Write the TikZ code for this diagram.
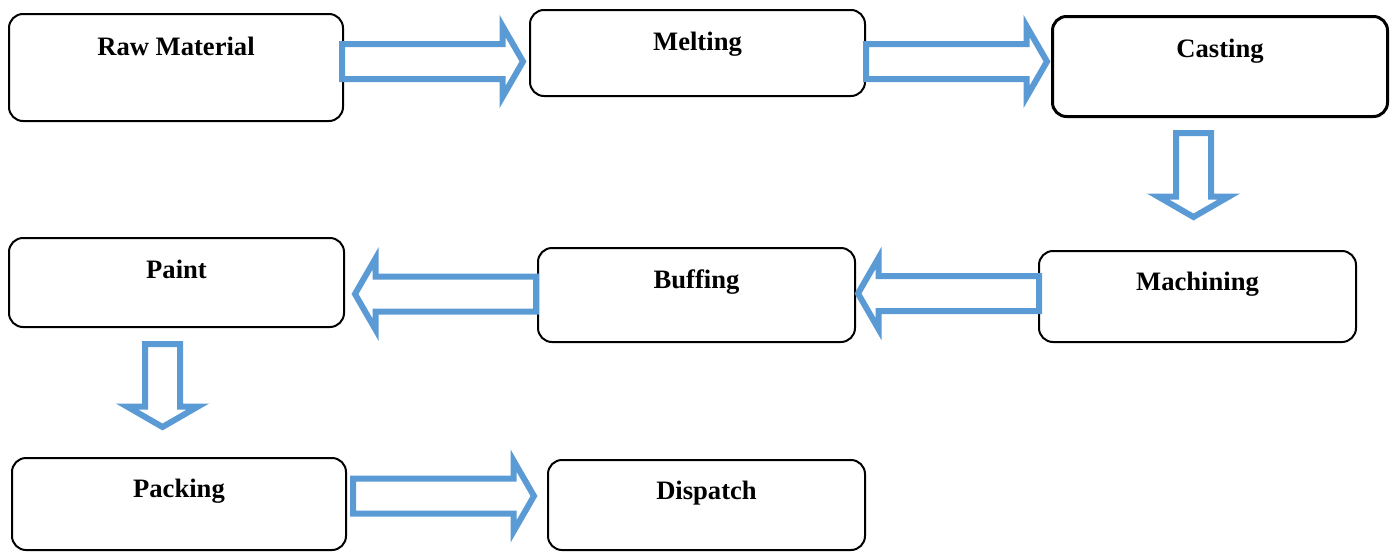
\documentclass[tikz,border=0pt]{standalone}
\usepackage{fontspec}
\setmainfont{Liberation Serif}
\usetikzlibrary{calc}
\definecolor{flowblue}{HTML}{5B9BD5}

\newcommand{\flowarrow}[2]{%
  \draw[flow] let \p1=#1, \p2=#2,
      \n1={atan2(\y2-\y1,\x2-\x1)}, \n2={veclen(\x2-\x1,\y2-\y1)} in
    ([shift={(\p1)},rotate=\n1]0pt,8.75pt)
    -- ([shift={(\p1)},rotate=\n1]\n2-10.25pt,8.75pt)
    -- ([shift={(\p1)},rotate=\n1]\n2-10.25pt,17.75pt)
    -- ([shift={(\p1)},rotate=\n1]\n2,0pt)
    -- ([shift={(\p1)},rotate=\n1]\n2-10.25pt,-17.75pt)
    -- ([shift={(\p1)},rotate=\n1]\n2-10.25pt,-8.75pt)
    -- ([shift={(\p1)},rotate=\n1]0pt,-8.75pt) -- cycle;}

\begin{document}
\begin{tikzpicture}[x=0.5pt,y=-0.5pt,
    stepbox/.style={draw, rounded corners=7pt, line width=1pt, inner sep=0pt, outer sep=0pt},
    steptext/.style={anchor=base, font=\fontsize{13.3}{16}\selectfont\bfseries},
    flow/.style={draw=flowblue, fill=white, line width=3pt}]
    \useasboundingbox (0,0) rectangle (1394,552);

    \node[stepbox, minimum width=167pt, minimum height=53.5pt] (raw) at (176,67.5) {};
    \node[stepbox, minimum width=167.5pt, minimum height=43pt] (melt) at (697.5,53) {};
    \node[stepbox, line width=1.5pt, minimum width=167.5pt, minimum height=50pt] (cast) at (1220,66.5) {};
    \node[stepbox, minimum width=158.5pt, minimum height=45.5pt] (mach) at (1197.5,296.5) {};
    \node[stepbox, minimum width=158.5pt, minimum height=47pt] (buff) at (696.5,295) {};
    \node[stepbox, minimum width=167.5pt, minimum height=44.5pt] (paint) at (176.5,282.5) {};
    \node[stepbox, minimum width=167pt, minimum height=46pt] (pack) at (179,504) {};
    \node[stepbox, minimum width=158.5pt, minimum height=45pt] (disp) at (706.5,505) {};

    \node[steptext] (rawtext) at ($(raw.north)+(0,41)$) {Raw Material};
    \node[steptext] (melttext) at ($(melt.north)+(0,40)$) {Melting};
    \node[steptext] (casttext) at ($(cast.north)+(0,40.5)$) {Casting};
    \node[steptext] (machtext) at ($(mach.north)+(0,39)$) {Machining};
    \node[steptext] (bufftext) at ($(buff.north)+(0,40)$) {Buffing};
    \node[steptext] (painttext) at ($(paint.north)+(0,40)$) {Paint};
    \node[steptext] (packtext) at ($(pack.north)+(0,39)$) {Packing};
    \node[steptext] (disptext) at ($(disp.north)+(0,39)$) {Dispatch};

    \flowarrow{($(raw.east)+(-1,-6)$)}{($(raw.east -| melt.west)+(-7,-6)$)}
    \flowarrow{($(melt.east)+(1,8.5)$)}{($(melt.east -| cast.west)+(-5.5,8.5)$)}
    \flowarrow{($(cast.south)+(-26.5,16.5)$)}{($(cast.south |- mach.north)+(-26.5,-34)$)}
    \flowarrow{($(mach.west)+(0,-3)$)}{($(mach.west -| buff.east)+(3,-3)$)}
    \flowarrow{($(buff.west)+(-2,-1)$)}{($(buff.west -| paint.east)+(11,-1)$)}
    \flowarrow{($(paint.south)+(-14,17)$)}{($(paint.south |- pack.north)+(-14,-31)$)}
    \flowarrow{($(pack.east)+(7,-8)$)}{($(pack.east -| disp.west)+(-14,-8)$)}
\end{tikzpicture}
\end{document}
